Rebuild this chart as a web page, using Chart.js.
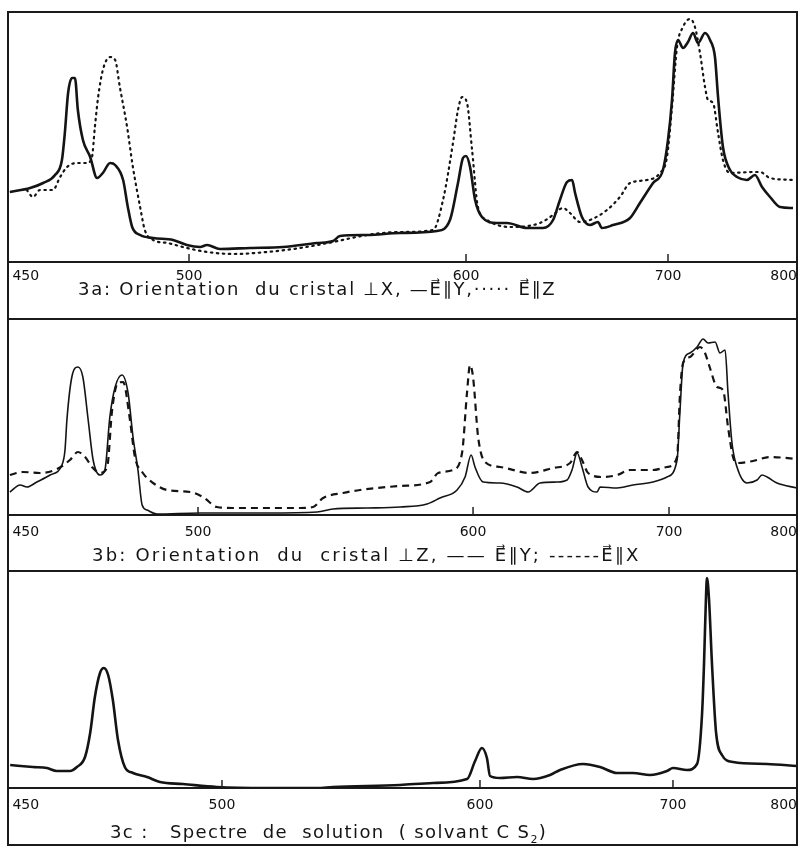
<!DOCTYPE html>
<html>
<head>
<meta charset="utf-8">
<script src="https://cdn.jsdelivr.net/npm/chart.js@4.4.1/dist/chart.umd.min.js"></script>
<style>
  body { margin: 0; background: #fff; }
  #page { position: relative; width: 804px; height: 847px; overflow: hidden; }
  .frame { position: absolute; box-sizing: border-box; border: 2px solid #1b1b1b; pointer-events: none; }
  .wrap { position: absolute; left: 8px; width: 789px; }
  .caption {
    position: absolute; white-space: pre; color: #141414;
    font-family: "DejaVu Sans", sans-serif; font-size: 18px; line-height: 20px;
  }
</style>
</head>
<body>
<div id="page">
  <div class="wrap" style="top:12px;height:278px"><canvas id="chartA" width="789" height="278"></canvas></div>
  <div class="wrap" style="top:319px;height:224px"><canvas id="chartB" width="789" height="224"></canvas></div>
  <div class="wrap" style="top:571px;height:245px"><canvas id="chartC" width="789" height="245"></canvas></div>

  <div class="frame" style="left:7px;top:11px;width:791px;height:309px"></div>
  <div class="frame" style="left:7px;top:318px;width:791px;height:254px"></div>
  <div class="frame" style="left:7px;top:570px;width:791px;height:276px"></div>

  <div class="caption" data-w="482" style="left:78px;top:279px">3a: Orientation  du cristal ⊥X, —E⃗∥Y,····· E⃗∥Z</div>
  <div class="caption" data-w="553" style="left:92px;top:545px">3b: Orientation  du  cristal ⊥Z, —— E⃗∥Y; ------E⃗∥X</div>
  <div class="caption" data-w="437" style="left:110px;top:822px">3c :   Spectre  de  solution  ( solvant C S<sub style="font-size:11px">2</sub>)</div>
</div>

<script>
// axis labels (nm)
const tickLabels = [450, 500, 600, 700, 800];

// 3a : cristal perpendicular to X
const aEparY = [
  [450.5,70],[456.1,74],[459.7,79],[463.0,87],[464.9,102],[465.7,129],[466.6,169],[467.7,184],[468.5,184],[469.3,152],
  [470.7,122],[472.7,105],[474.6,84],[476.2,89],[478.2,99],[479.6,97],[481.8,82],[483.1,55],[484.3,35],[486.5,27],
  [490.1,24],[495.6,22],[499.4,17],[504.0,15],[506.5,17],[511.2,13],[522.0,14],[533.9,15],[546.2,19],[552.0,21],
  [554.5,26],[564.3,27],[576.2,29],[589.5,31],[594.2,42],[597.1,79],[598.9,104],[600.0,106],[602.0,95],[604.5,62],
  [607.9,45],[615.3,39],[620.3,39],[630.2,34],[638.1,34],[643.1,42],[646.5,62],[650.0,80],[652.5,82],[654.0,69],
  [657.4,45],[661.4,37],[665.3,40],[667.3,34],[672.8,37],[681.2,44],[686.1,59],[692.6,79],[697.5,92],[700.0,122],
  [703.1,162],[705.4,209],[707.8,222],[711.6,214],[715.5,220],[719.4,229],[723.3,219],[728.7,229],[732.6,222],[736.4,205],
  [738.8,165],[742.6,115],[748.1,92],[753.5,85],[761.2,82],[767.4,87],[772.9,75],[779.1,65],[786.8,55],[796.9,54]
];
const aEparZ = [
  [455.2,72],[456.9,65],[458.8,72],[462.4,72],[464.4,85],[466.3,95],[469.1,99],[471.8,99],[473.2,105],[474.0,135],
  [474.9,165],[476.2,192],[478.2,205],[479.6,202],[480.9,175],[482.9,135],[484.5,95],[486.5,55],[487.8,32],[490.1,22],
  [494.0,19],[499.4,14],[506.5,10],[515.9,8],[528.2,10],[540.1,14],[552.0,20],[564.3,27],[576.2,30],[588.1,32],
  [591.7,62],[595.3,119],[597.1,152],[598.6,165],[600.5,159],[603.0,112],[605.9,55],[610.4,42],[621.8,35],[636.6,39],
  [643.1,47],[648.0,54],[651.5,49],[656.4,40],[661.4,42],[669.8,52],[676.2,65],[681.2,79],[689.6,82],[696.0,89],
  [699.5,105],[703.1,155],[707.0,215],[711.6,235],[717.1,243],[720.9,235],[724.8,209],[728.7,175],[731.0,162],[734.9,159],
  [738.8,129],[742.6,102],[748.1,89],[765.9,90],[771.3,90],[779.1,84],[796.9,82]
];

// 3b : cristal perpendicular to Z
const bEparY = [
  [450.5,23],[453.2,30],[455.0,28],[457.6,33],[461.1,40],[464.2,50],[465.0,65],[465.5,95],[466.8,138],[468.4,148],
  [469.7,138],[471.1,95],[472.4,55],[474.2,40],[475.5,45],[476.8,98],[478.2,128],[480.0,140],[481.6,122],[482.9,78],
  [484.2,45],[485.3,10],[486.6,5],[489.2,1],[500.7,2],[525.1,2],[543.3,3],[549.1,6],[561.5,7],[573.5,8],
  [583.3,11],[588.0,17],[594.2,25],[597.1,38],[599.3,60],[601.0,48],[605.1,33],[613.8,32],[622.4,28],[628.1,23],
  [634.2,32],[642.9,33],[648.0,35],[650.5,45],[653.1,62],[655.6,48],[658.7,28],[663.3,23],[664.8,28],[673.5,27],
  [681.6,30],[691.8,33],[699.0,38],[706.3,55],[708.6,105],[711.0,152],[716.4,162],[721.9,168],[726.6,176],[730.5,172],
  [736.0,173],[739.8,162],[743.8,165],[746.1,122],[749.2,72],[753.1,48],[760.9,32],[768.8,35],[772.7,40],[776.6,38],
  [784.4,32],[800.0,27]
];
const bEparX = [
  [450.5,40],[453.9,43],[458.4,42],[462.9,46],[466.3,55],[468.4,63],[470.3,58],[472.1,48],[474.2,42],[476.1,48],
  [477.4,105],[478.9,132],[480.3,133],[482.1,95],[483.4,58],[485.5,42],[488.2,32],[491.8,25],[497.9,23],[501.8,18],
  [506.9,8],[512.7,7],[537.1,7],[541.8,8],[545.5,17],[552.7,22],[558.9,25],[573.5,29],[584.4,33],[587.3,42],
  [592.7,45],[596.0,62],[597.8,122],[598.9,150],[600.0,138],[602.6,78],[606.1,53],[613.8,48],[629.1,42],[640.8,47],
  [649.5,52],[653.1,63],[655.6,55],[658.7,42],[666.3,38],[673.5,40],[680.1,45],[691.8,45],[699.0,48],[706.3,58],
  [708.6,122],[711.0,152],[716.4,158],[724.2,168],[728.1,162],[732.0,147],[737.5,128],[742.2,125],[746.1,88],[750.0,58],
  [753.1,52],[765.6,54],[778.9,58],[800.0,56]
];

// 3c : solution spectrum (CS2)
const cSolution = [
  [450.5,23],[455.8,21],[459.1,20],[461.4,17],[464.5,17],[466.1,21],[468.0,31],[469.2,55],[470.3,91],[471.5,115],
  [472.4,120],[473.4,113],[474.5,88],[475.7,48],[477.3,21],[479.2,15],[482.5,11],[485.5,6],[490.9,4],[498.8,1],
  [517.4,0],[536.8,0],[543.0,1],[569.0,3],[581.8,5],[595.0,9],[598.1,27],[601.0,40],[603.6,30],[605.2,12],
  [610.4,10],[619.2,11],[627.5,9],[636.3,13],[641.5,18],[653.4,24],[662.2,21],[671.0,15],[679.3,15],[688.1,13],
  [696.9,17],[700.0,20],[711.3,18],[719.4,24],[723.4,73],[725.0,123],[726.6,190],[727.4,210],[729.0,190],[731.5,123],
  [734.7,56],[739.5,33],[748.4,26],[775.8,24],[800.0,22]
];

// the printed wavelength axis is not linear: where each label sits along the axis (0..1)
const panelBreaks = {
  chartA: [[450, 0], [500, 0.2294], [600, 0.5805], [700, 0.8365], [800, 1]],
  chartB: [[450, 0], [500, 0.2408], [600, 0.5894], [700, 0.8378], [800, 1]],
  chartC: [[450, 0], [500, 0.2712], [600, 0.5982], [700, 0.8428], [800, 1]]
};

function toFrac(b, v) {
  let i = 0;
  while (i < b.length - 2 && v > b[i + 1][0]) i++;
  const [v0, f0] = b[i], [v1, f1] = b[i + 1];
  return f0 + (v - v0) / (v1 - v0) * (f1 - f0);
}
function fromFrac(b, f) {
  let i = 0;
  while (i < b.length - 2 && f > b[i + 1][1]) i++;
  const [v0, f0] = b[i], [v1, f1] = b[i + 1];
  return v0 + (f - f0) / (f1 - f0) * (v1 - v0);
}

class PiecewiseScale extends Chart.LinearScale {
  getPixelForValue(value) {
    return this.getPixelForDecimal(toFrac(panelBreaks[this.chart.canvas.id], value));
  }
  getValueForPixel(pixel) {
    return fromFrac(panelBreaks[this.chart.canvas.id], this.getDecimalForPixel(pixel));
  }
}
PiecewiseScale.id = 'piecewise';
Chart.register(PiecewiseScale);

// small tick marks pointing up into the plot
const innerTicks = {
  id: 'innerTicks',
  afterDraw(chart) {
    const xs = chart.scales.x, ctx = chart.ctx, bottom = chart.chartArea.bottom;
    ctx.save();
    ctx.strokeStyle = '#222';
    ctx.lineWidth = 1.5;
    tickLabels.slice(1, -1).forEach(v => {
      const px = xs.getPixelForValue(v);
      ctx.beginPath();
      ctx.moveTo(px, bottom);
      ctx.lineTo(px, bottom - 8);
      ctx.stroke();
    });
    ctx.restore();
  }
};

const ink = '#141414';

function pts(arr) {
  return arr.map(p => ({ x: p[0], y: p[1] }));
}

function makePanel(id, yMax, labelGap, datasets) {
  return new Chart(document.getElementById(id), {
    type: 'line',
    data: { datasets },
    options: {
      responsive: false,
      animation: false,
      layout: { padding: 0 },
      plugins: { legend: { display: false }, tooltip: { enabled: false } },
      elements: { point: { radius: 0 }, line: { cubicInterpolationMode: 'monotone' } },
      scales: {
        x: {
          type: 'piecewise',
          min: 450,
          max: 800,
          afterBuildTicks: s => { s.ticks = tickLabels.map(v => ({ value: v })); },
          afterFit: s => { s.height = 28; s.paddingLeft = 0; s.paddingRight = 0; },
          grid: { display: false },
          border: { display: true, color: '#1b1b1b', width: 2 },
          ticks: {
            align: 'inner',
            autoSkip: false,
            maxRotation: 0,
            padding: labelGap,
            color: '#111',
            font: { family: 'DejaVu Sans', size: 14 },
            // keep the first label clear of the frame
            callback: v => (v === tickLabels[0] ? ' ' : '') + v
          }
        },
        y: { display: false, min: 0, max: yMax }
      }
    },
    plugins: [innerTicks]
  });
}

makePanel('chartA', 250, -2, [
  { data: pts(aEparY), borderColor: ink, borderWidth: 2.6, fill: false },
  { data: pts(aEparZ), borderColor: ink, borderWidth: 2.2, borderDash: [1.5, 4.5], borderCapStyle: 'round', fill: false }
]);

makePanel('chartB', 196, 1, [
  { data: pts(bEparY), borderColor: ink, borderWidth: 1.6, fill: false },
  { data: pts(bEparX), borderColor: ink, borderWidth: 2.2, borderDash: [7, 5], fill: false }
]);

makePanel('chartC', 217, 1, [
  { data: pts(cSolution), borderColor: ink, borderWidth: 2.6, fill: false }
]);

// spread each caption to the width it has in the printed figure
document.querySelectorAll('.caption').forEach(el => {
  const w = el.getBoundingClientRect().width;
  const n = el.textContent.length;
  el.style.letterSpacing = ((+el.dataset.w - w) / n).toFixed(2) + 'px';
});
</script>
</body>
</html>
